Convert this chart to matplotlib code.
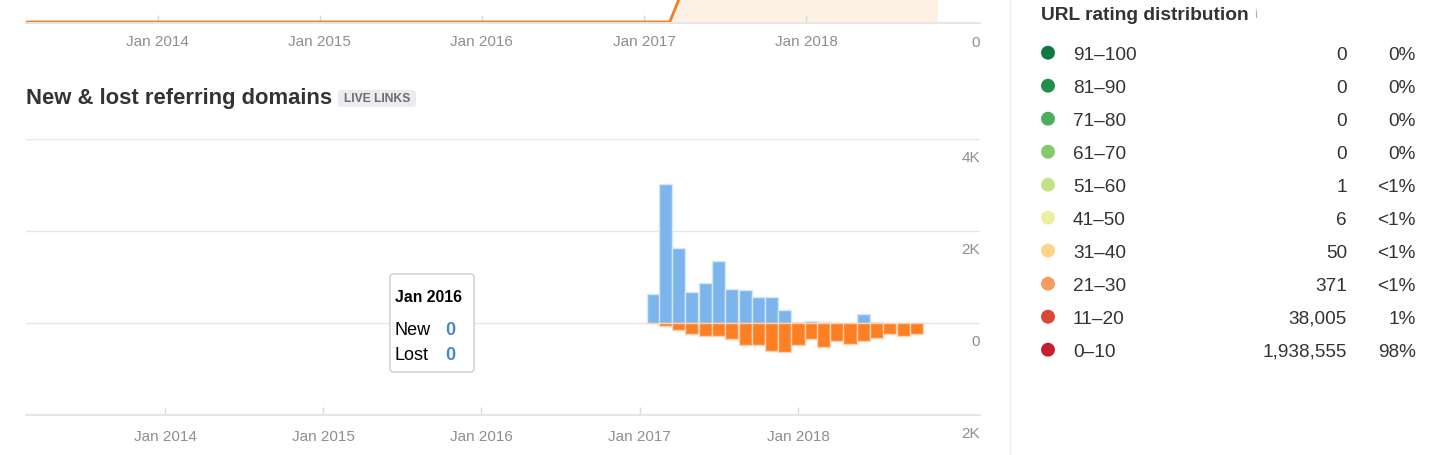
import numpy as np
import matplotlib
matplotlib.use("Agg")
import matplotlib.pyplot as plt
import matplotlib.dates as mdates
import matplotlib.transforms as mtransforms
from matplotlib.patches import FancyBboxPatch
from datetime import datetime

plt.rcParams["font.family"] = ["Liberation Sans", "DejaVu Sans"]

W, H = 1446, 455
C_NEW = "#7cb5ec"
C_LOST = "#fd7f23"
C_GRID = "#e6e6e6"
C_TICK = "#8e8e8e"
C_TEXT = "#333333"
DY = 2.5   # matplotlib centres on the descent box, nudge text down a bit

# ---- data ----
# upper (cut-off) referring domains line
ref_dates = ["2013-03-01", "2017-02-28", "2017-04-01", "2017-05-01", "2017-06-01",
             "2017-08-01", "2017-10-01", "2018-01-01", "2018-04-01", "2018-07-01",
             "2018-10-24"]
ref_values = [0, 0, 560, 3400, 4800, 5900, 6600, 6900, 6700, 6500, 6300]

# new & lost referring domains per month
nl_months = ["2017-02", "2017-03", "2017-04", "2017-05", "2017-06", "2017-07", "2017-08",
             "2017-09", "2017-10", "2017-11", "2017-12", "2018-01", "2018-02", "2018-03",
             "2018-04", "2018-05", "2018-06", "2018-07", "2018-08", "2018-09", "2018-10"]
new_vals = [623, 3018, 1626, 681, 864, 1348, 747, 711, 564, 564, 286,
            22, 51, 22, 0, 0, 198, 22, 0, 0, 0]
lost_vals = [0, 59, 147, 234, 293, 293, 352, 476, 476, 601, 630,
             476, 352, 513, 388, 447, 388, 330, 234, 293, 234]
years = [2014, 2015, 2016, 2017, 2018]
y_ticks = [4000, 2000, 0, -2000]

# URL rating distribution
ur_ranges = ["91–100", "81–90", "71–80", "61–70", "51–60",
             "41–50", "31–40", "21–30", "11–20", "0–10"]
ur_counts = [0, 0, 0, 0, 1, 6, 50, 371, 38005, 1938555]
ur_colors = ["#0a7a3e", "#1f8f4a", "#4eae5b", "#86c96b", "#c2e384",
             "#ecef9d", "#fdd386", "#f79b5e", "#dc4638", "#c51e2e"]


def frac(x0, y0, x1, y1):
    return [x0 / W, 1 - y1 / H, (x1 - x0) / W, (y1 - y0) / H]


def d2n(s):
    return mdates.date2num(datetime.fromisoformat(s))


fig = plt.figure(figsize=(W / 100, H / 100), dpi=100)

# ---------- upper strip: referring domains (bottom edge only) ----------
axt = fig.add_axes(frac(26, 0, 980, 23))
rx = [d2n(s) for s in ref_dates]
axt.fill_between(rx, 0, ref_values, color="#fdf0e5", lw=0)
axt.plot(rx, ref_values, color="#f57c1f", lw=2, solid_capstyle="butt")
j17 = d2n("2017-01-01")
ppd2 = 162 / 365.0
axt.set_xlim(j17 - (644 - 26) / ppd2, j17 + (980 - 644) / ppd2)
axt.set_ylim(-16, 350)
for s in ["top", "left", "right"]:
    axt.spines[s].set_visible(False)
axt.spines["bottom"].set_color(C_GRID)
axt.spines["bottom"].set_linewidth(1.5)
axt.set_yticks([])
axt.set_xticks([d2n(f"{y}-01-01") for y in years])
axt.set_xticklabels([f"Jan {y}" for y in years])
axt.tick_params(axis="x", direction="in", length=6, width=1, color="#d9d9d9",
                labelsize=11, labelcolor=C_TICK, pad=9)
axt.text(1.0, 0, "0", transform=mtransforms.offset_copy(
    axt.transAxes, fig=fig, x=0, y=-20, units="dots"),
    ha="right", va="center", fontsize=11, color=C_TICK)

# ---------- lower: new & lost referring domains ----------
ax = fig.add_axes(frac(26, 139, 980, 415))
bx = [d2n(m + "-01") for m in nl_months]
ax.bar(bx, new_vals, width=30.4, color=C_NEW, edgecolor="#d4e7f9", lw=1, zorder=3)
ax.bar(bx, -np.array(lost_vals), width=30.4, color=C_LOST, edgecolor="#fdd2b3", lw=1, zorder=3)
j14 = d2n("2014-01-01")
ppd = (798 - 165) / (d2n("2018-01-01") - j14)
ax.set_xlim(j14 - (165 - 26) / ppd, j14 + (980 - 165) / ppd)
ax.set_ylim(-2000, 4000)
for v in y_ticks[:-1]:
    ax.axhline(v, color=C_GRID, lw=1, zorder=1)
for s in ["top", "left", "right"]:
    ax.spines[s].set_visible(False)
ax.spines["bottom"].set_color(C_GRID)
ax.spines["bottom"].set_linewidth(1.5)
ax.set_yticks([])
ax.set_xticks([d2n(f"{y}-01-01") for y in years])
ax.set_xticklabels([f"Jan {y}" for y in years])
ax.tick_params(axis="x", direction="in", length=6, width=1, color="#d9d9d9",
               labelsize=11, labelcolor=C_TICK, pad=10.5)
lab_tr = mtransforms.offset_copy(
    mtransforms.blended_transform_factory(ax.transAxes, ax.transData),
    fig=fig, x=0, y=-19.5, units="dots")
for v in y_ticks:
    ax.text(1.0, v, f"{abs(v) // 1000}K" if v else "0", transform=lab_tr,
            ha="right", va="center", fontsize=11, color=C_TICK)

# ---------- overlay: titles, tooltip, right panel ----------
ov = fig.add_axes([0, 0, 1, 1])
ov.set_xlim(0, W)
ov.set_ylim(H, 0)
ov.axis("off")

ov.text(26, 96 + DY, "New & lost referring domains", fontsize=15.8, fontweight="bold",
        color=C_TEXT, va="center", ha="left")
ov.add_patch(FancyBboxPatch((338, 90), 78, 17, boxstyle="round,pad=0,rounding_size=3",
                            fc="#ebebf0", ec="none"))
ov.text(377, 98.5 + 1, "LIVE LINKS", fontsize=8.7, fontweight="bold", color="#6d6d6d",
        ha="center", va="center")

# tooltip
ov.add_patch(FancyBboxPatch((390, 274), 84, 98, boxstyle="round,pad=0,rounding_size=3",
                            fc="white", ec="#cccccc", lw=1, zorder=5))
ov.text(395, 295 + DY, "Jan 2016", fontsize=11.3, fontweight="bold", color="black",
        va="center", zorder=6)
for yy, name in [(328, "New"), (353, "Lost")]:
    ov.text(395, yy + DY, name, fontsize=13, color="black", va="center", zorder=6)
    ov.text(445, yy + DY, "0", fontsize=13, fontweight="bold", color="#4a86d8",
            va="center", zorder=6)

# right panel
ov.plot([1010, 1010], [0, H], color="#eeeeee", lw=1)
ov.text(1041, 13 + DY, "URL rating distribution", fontsize=13.8, fontweight="bold",
        color=C_TEXT, va="center")
ov.text(1254, 13 + DY, "i", fontsize=9.5, color="#b0b0b0", va="center")
total = sum(ur_counts)
rows_y = 52.7 + 33 * np.arange(len(ur_ranges))
ov.scatter(np.full(len(rows_y), 1048), rows_y, s=100, c=ur_colors, lw=0)
for yy, rng, cnt in zip(rows_y, ur_ranges, ur_counts):
    pct = cnt / total * 100
    ptxt = "0%" if cnt == 0 else ("<1%" if pct < 1 else f"{int(pct)}%")
    ov.text(1073, yy + DY, rng, fontsize=13.7, color=C_TEXT, va="center")
    ov.text(1347, yy + DY, f"{cnt:,}", fontsize=13.7, color=C_TEXT, va="center", ha="right")
    ov.text(1416, yy + DY, ptxt, fontsize=13.7, color=C_TEXT, va="center", ha="right")

fig.savefig("out.png", dpi=100)
